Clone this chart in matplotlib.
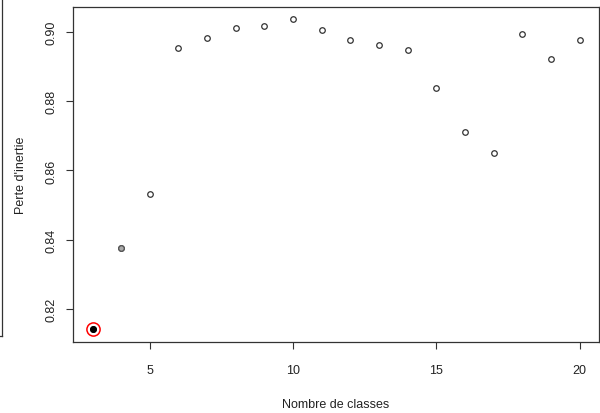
import matplotlib.pyplot as plt
from matplotlib.lines import Line2D

plt.rcParams["font.family"] = ["Liberation Sans", "DejaVu Sans"]

# data
classes = list(range(3, 21))
perte = [0.8141, 0.8376, 0.8533, 0.8953, 0.8983, 0.9011, 0.9019, 0.9037, 0.9006,
         0.8976, 0.8963, 0.8948, 0.8839, 0.8711, 0.8650, 0.8996, 0.8923, 0.8978]
x_ticks = [5, 10, 15, 20]
y_ticks = [0.82, 0.84, 0.86, 0.88, 0.90]
best_k = 3
second_k = 4

fig = plt.figure(figsize=(6, 4.14), dpi=100)
ax = fig.add_axes([0.1217, 0.1727, 0.8767, 0.808])

# open circles for every point
ax.plot(classes, perte, "o", linestyle="none", markersize=4,
        markerfacecolor="white", markeredgecolor="#333333", markeredgewidth=0.9)

# highlighted points
i2 = classes.index(second_k)
ax.plot(classes[i2], perte[i2], "o", markersize=4,
        markerfacecolor="#aaaaaa", markeredgecolor="#555555", markeredgewidth=0.9)
i1 = classes.index(best_k)
ax.plot(classes[i1], perte[i1], "o", markersize=4, color="black")
ax.plot(classes[i1], perte[i1], "o", markersize=9.5, markerfacecolor="none",
        markeredgecolor="red", markeredgewidth=1.1)

# R style axes ranges (4% padding)
xr = max(classes) - min(classes)
yr = max(perte) - min(perte)
ax.set_xlim(min(classes) - 0.04 * xr, max(classes) + 0.04 * xr)
ax.set_ylim(min(perte) - 0.04 * yr, max(perte) + 0.04 * yr)

ax.set_xticks(x_ticks)
ax.set_xticklabels([str(v) for v in x_ticks])
ax.set_yticks(y_ticks)
ax.set_yticklabels([f"{v:.2f}" for v in y_ticks], rotation=90, va="center")
ax.tick_params(axis="both", labelsize=9, length=5, width=0.8, color="#333333",
               labelcolor="#222222")
ax.tick_params(axis="x", pad=11)
ax.tick_params(axis="y", pad=6.5)
for s in ax.spines.values():
    s.set_color("#333333")
    s.set_linewidth(0.9)

ax.set_xlabel("Nombre de classes", fontsize=9, color="#222222", labelpad=16)
ax.set_ylabel("Perte d'inertie", fontsize=9, color="#222222", labelpad=13)

# leftover frame edge on the left side
fig.add_artist(Line2D([0.004, 0.004], [1.0, 1 - 337 / 414], transform=fig.transFigure,
                      color="#333333", linewidth=0.9))
fig.add_artist(Line2D([0.0, 0.004], [1 - 337 / 414, 1 - 337 / 414], transform=fig.transFigure,
                      color="#333333", linewidth=0.9))

fig.savefig("out.png", dpi=100)
